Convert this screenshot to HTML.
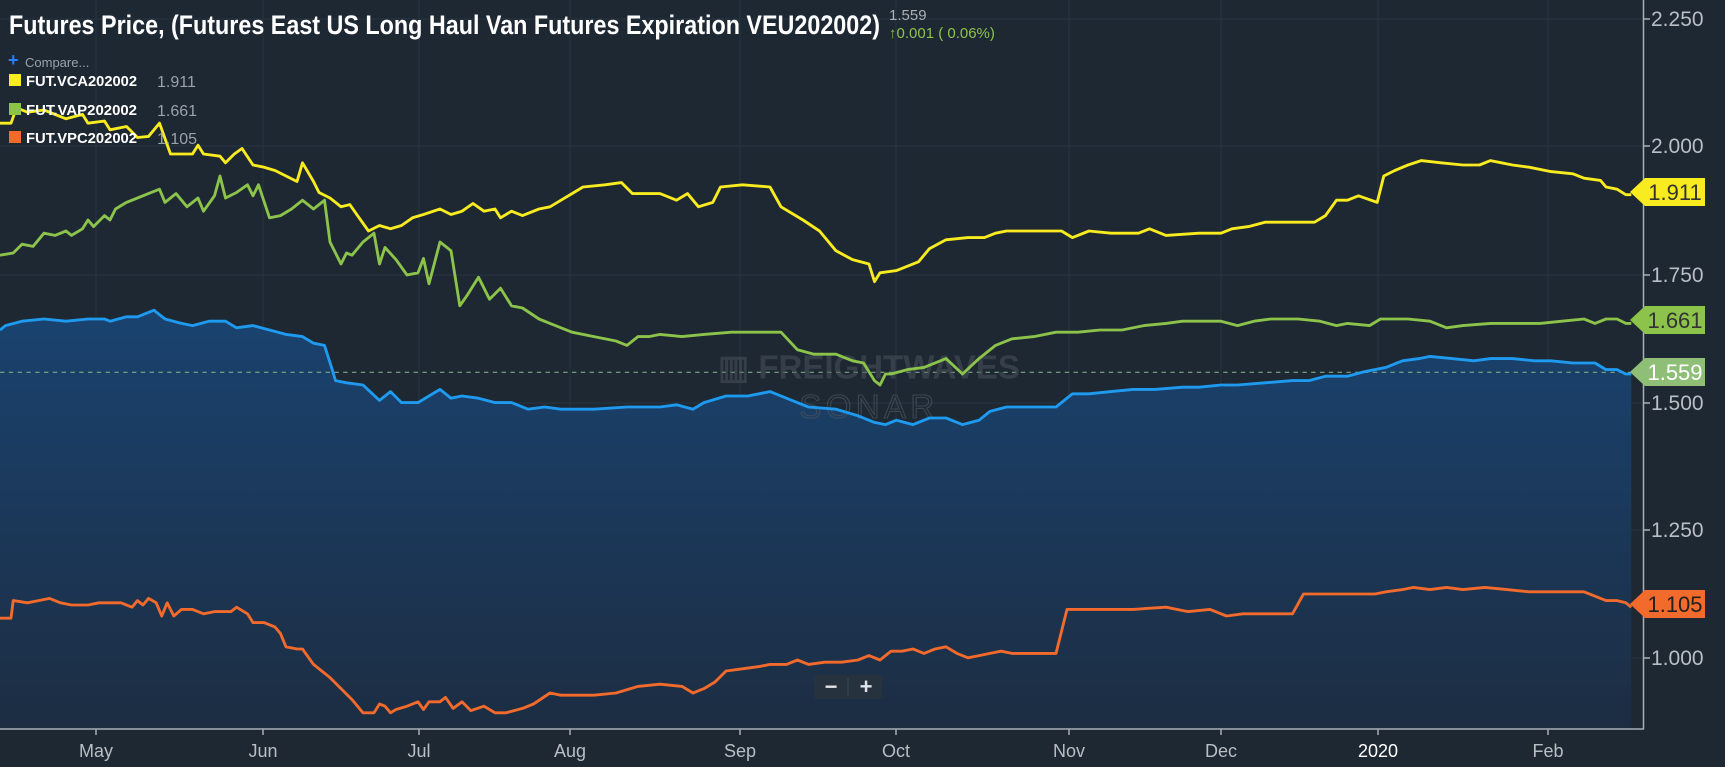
<!DOCTYPE html>
<html><head><meta charset="utf-8"><style>
html,body{margin:0;padding:0;background:#1e2833;}
svg{display:block;}
</style></head><body>
<svg width="1725" height="767" viewBox="0 0 1725 767" xmlns="http://www.w3.org/2000/svg" font-family="Liberation Sans, sans-serif">
<defs>
<linearGradient id="fg" x1="0" y1="0" x2="0" y2="1">
<stop offset="0" stop-color="#1a4370"/><stop offset="1" stop-color="#1c2d42"/>
</linearGradient>
<clipPath id="cp"><rect x="0" y="0" width="1643" height="729"/></clipPath>
</defs>
<rect width="1725" height="767" fill="#1e2833"/>
<g stroke="#26343f" stroke-width="1">
<line x1="0" y1="19" x2="1643" y2="19"/><line x1="0" y1="146" x2="1643" y2="146"/><line x1="0" y1="275" x2="1643" y2="275"/><line x1="0" y1="403" x2="1643" y2="403"/><line x1="0" y1="530" x2="1643" y2="530"/><line x1="0" y1="658" x2="1643" y2="658"/>
<line x1="96" y1="0" x2="96" y2="729"/><line x1="263" y1="0" x2="263" y2="729"/><line x1="419" y1="0" x2="419" y2="729"/><line x1="570" y1="0" x2="570" y2="729"/><line x1="740" y1="0" x2="740" y2="729"/><line x1="896" y1="0" x2="896" y2="729"/><line x1="1069" y1="0" x2="1069" y2="729"/><line x1="1221" y1="0" x2="1221" y2="729"/><line x1="1378" y1="0" x2="1378" y2="729"/><line x1="1548" y1="0" x2="1548" y2="729"/>
</g>
<g clip-path="url(#cp)">
<g transform="scale(1.1)" fill="none" stroke-width="2.6" stroke-linejoin="round">
<polygon fill="url(#fg)" stroke="none" points="0,300 5,296 20,292 40,290 60,292 80,290 95,290 100,292 115,288 125,288 140,282 150,290 165,294 175,296 190,292 205,292 215,298 230,296 245,300 260,304 275,306 285,312 295,314 302,336 305,346 315,348 330,350 345,364 355,356 365,366 380,366 390,360 400,354 410,362 420,360 435,362 450,366 465,366 480,372 495,370 510,372 540,372 570,370 600,370 615,368 630,372 640,366 660,360 680,360 700,356 720,364 735,370 760,372 780,378 795,384 805,386 815,382 830,386 845,380 860,380 875,386 890,382 900,374 915,370 940,370 960,370 975,358 990,358 1010,356 1030,354 1050,354 1075,352 1090,352 1110,350 1125,350 1150,348 1175,346 1190,346 1205,342 1225,342 1240,338 1260,334 1275,328 1290,326 1300,324 1320,326 1340,328 1355,326 1375,326 1395,328 1410,328 1430,330 1450,330 1460,336 1470,336 1478,340 1483,340 1483,663 0,663"/>
<line x1="0" y1="338.5" x2="1483" y2="338.5" stroke="#7fa884" stroke-width="1" stroke-dasharray="4,4"/>
<text x="790" y="344" font-size="30" font-weight="bold" fill="#4a535c" text-anchor="middle" stroke="none" opacity="0.55">▥ FREIGHTWAVES</text>
<text x="790" y="380" font-size="30" fill="none" stroke="#4a535c" stroke-width="1" text-anchor="middle" letter-spacing="4" opacity="0.7">SONAR</text>
<polyline stroke="#1e9bf0" points="0,300 5,296 20,292 40,290 60,292 80,290 95,290 100,292 115,288 125,288 140,282 150,290 165,294 175,296 190,292 205,292 215,298 230,296 245,300 260,304 275,306 285,312 295,314 302,336 305,346 315,348 330,350 345,364 355,356 365,366 380,366 390,360 400,354 410,362 420,360 435,362 450,366 465,366 480,372 495,370 510,372 540,372 570,370 600,370 615,368 630,372 640,366 660,360 680,360 700,356 720,364 735,370 760,372 780,378 795,384 805,386 815,382 830,386 845,380 860,380 875,386 890,382 900,374 915,370 940,370 960,370 975,358 990,358 1010,356 1030,354 1050,354 1075,352 1090,352 1110,350 1125,350 1150,348 1175,346 1190,346 1205,342 1225,342 1240,338 1260,334 1275,328 1290,326 1300,324 1320,326 1340,328 1355,326 1375,326 1395,328 1410,328 1430,330 1450,330 1460,336 1470,336 1478,340 1483,340"/>
<polyline stroke="#f8eb1f" points="0,112 10,112 15,98 25,102 40,100 60,108 75,104 80,112 95,110 100,118 115,115 125,125 135,124 145,112 155,140 175,140 180,132 185,140 200,142 205,148 213,140 220,135 230,150 240,152 250,155 260,160 270,165 275,148 285,165 290,175 300,180 310,188 318,186 325,196 335,210 345,205 355,208 365,205 375,198 385,195 400,190 410,195 420,192 430,185 440,192 450,190 455,198 465,192 475,196 490,190 500,188 510,182 520,176 530,170 550,168 565,166 575,176 600,176 615,182 625,176 635,188 648,184 655,170 675,168 700,170 710,188 730,200 745,210 760,228 775,236 790,240 795,256 800,248 815,246 825,242 835,238 845,226 860,218 880,216 895,216 905,212 915,210 935,210 965,210 975,216 990,210 1010,212 1035,212 1045,208 1060,214 1090,212 1110,212 1120,208 1135,206 1150,202 1170,202 1195,202 1205,196 1215,182 1225,182 1235,178 1252,184 1258,160 1268,155 1280,150 1292,146 1310,148 1330,150 1345,150 1355,146 1365,148 1375,150 1390,152 1410,156 1430,158 1440,162 1455,164 1460,170 1470,172 1478,177 1483,177"/>
<polyline stroke="#8cc34a" points="0,232 12,230 20,222 30,224 40,212 50,214 60,210 65,214 75,208 80,200 85,206 95,196 100,200 105,190 115,184 125,180 135,176 145,172 150,184 160,176 170,188 180,180 185,192 195,178 200,160 205,180 215,175 225,168 230,178 235,168 245,198 255,196 265,190 275,182 285,190 295,182 300,220 310,240 315,230 320,232 330,220 340,212 345,240 350,225 360,236 370,250 380,248 385,235 390,258 400,220 410,228 418,278 425,268 435,252 445,272 455,262 465,278 475,280 490,290 500,294 520,302 540,306 560,310 570,314 580,306 590,306 600,304 620,306 640,304 665,302 680,302 710,302 725,318 740,322 760,322 775,328 785,330 795,346 800,350 805,340 810,340 825,336 840,334 860,326 875,340 890,326 905,314 920,308 940,306 960,302 980,302 1000,300 1020,300 1040,296 1060,294 1075,292 1090,292 1110,292 1125,296 1140,292 1155,290 1180,290 1200,292 1215,296 1225,294 1245,296 1255,290 1280,290 1300,292 1315,298 1330,296 1355,294 1400,294 1420,292 1440,290 1450,294 1460,290 1470,290 1478,294 1483,294"/>
<polyline stroke="#f26a2c" points="0,562 10,562 12,546 25,548 35,546 45,544 55,548 65,550 80,550 90,548 100,548 110,548 120,552 125,546 130,550 135,544 142,548 147,560 152,548 158,560 165,554 175,554 185,558 195,556 210,556 215,552 225,558 230,566 240,566 250,570 255,576 260,588 270,590 275,590 285,604 300,616 310,626 320,636 330,648 340,648 345,640 350,642 355,648 360,645 370,642 380,638 385,645 390,638 400,638 405,634 412,644 420,638 428,646 440,642 450,648 460,648 475,644 485,640 500,630 510,632 520,632 540,632 560,630 580,624 600,622 620,624 630,630 640,626 650,620 660,610 675,608 690,606 700,604 715,604 725,600 735,604 750,602 765,602 780,600 790,596 800,600 810,592 820,592 830,590 840,594 850,590 860,588 870,594 880,598 890,596 900,594 910,592 920,594 940,594 960,594 970,554 975,554 1000,554 1030,554 1060,552 1080,556 1100,554 1115,560 1130,558 1150,558 1175,558 1185,540 1220,540 1250,540 1260,538 1275,536 1285,534 1300,536 1315,534 1330,536 1350,534 1370,536 1390,538 1410,538 1440,538 1460,546 1470,546 1478,548 1483,552"/>
</g>
</g>
<rect x="814" y="675" width="68" height="24" rx="3" fill="#26323d"/>
<text x="831" y="694" font-size="22" fill="#e0e4e8" text-anchor="middle" font-weight="bold">−</text>
<text x="866" y="694" font-size="22" fill="#e0e4e8" text-anchor="middle" font-weight="bold">+</text>
<line x1="848" y1="678" x2="848" y2="696" stroke="#3a4652"/>
<line x1="0" y1="729" x2="1644" y2="729" stroke="#a9b0b6" stroke-width="1.5"/>
<line x1="1643.5" y1="0" x2="1643.5" y2="729" stroke="#a9b0b6" stroke-width="1.5"/>
<g stroke="#a9b0b6" stroke-width="1.5">
<line x1="1643" y1="19" x2="1650" y2="19"/><line x1="1643" y1="146" x2="1650" y2="146"/><line x1="1643" y1="275" x2="1650" y2="275"/><line x1="1643" y1="403" x2="1650" y2="403"/><line x1="1643" y1="530" x2="1650" y2="530"/><line x1="1643" y1="658" x2="1650" y2="658"/>
<line x1="96" y1="729" x2="96" y2="735"/><line x1="263" y1="729" x2="263" y2="735"/><line x1="419" y1="729" x2="419" y2="735"/><line x1="570" y1="729" x2="570" y2="735"/><line x1="740" y1="729" x2="740" y2="735"/><line x1="896" y1="729" x2="896" y2="735"/><line x1="1069" y1="729" x2="1069" y2="735"/><line x1="1221" y1="729" x2="1221" y2="735"/><line x1="1378" y1="729" x2="1378" y2="735"/><line x1="1548" y1="729" x2="1548" y2="735"/>
</g>
<g font-size="21" fill="#b8bec4">
<text x="1651" y="26">2.250</text><text x="1651" y="153">2.000</text><text x="1651" y="282">1.750</text><text x="1651" y="410">1.500</text><text x="1651" y="537">1.250</text><text x="1651" y="665">1.000</text>
</g>
<g font-size="18" fill="#b8bec4" text-anchor="middle">
<text x="96" y="757">May</text><text x="263" y="757">Jun</text><text x="419" y="757">Jul</text><text x="570" y="757">Aug</text><text x="740" y="757">Sep</text><text x="896" y="757">Oct</text><text x="1069" y="757">Nov</text><text x="1221" y="757">Dec</text><text x="1378" y="757" fill="#ffffff">2020</text><text x="1548" y="757">Feb</text>
</g>
<g font-size="22">
<path d="M1630,192 L1645,178 L1705,178 L1705,206 L1645,206 Z" fill="#f8eb1f"/><text x="1675" y="200" text-anchor="middle" fill="#333">1.911</text>
<path d="M1630,320 L1645,306 L1705,306 L1705,334 L1645,334 Z" fill="#8cc34a"/><text x="1675" y="328" text-anchor="middle" fill="#333">1.661</text>
<path d="M1630,372 L1645,358 L1705,358 L1705,386 L1645,386 Z" fill="#8fbf77"/><text x="1675" y="380" text-anchor="middle" fill="#fff">1.559</text>
<path d="M1630,604 L1645,590 L1705,590 L1705,618 L1645,618 Z" fill="#f26a2c"/><text x="1675" y="612" text-anchor="middle" fill="#222">1.105</text>
</g>
<text x="9" y="34" font-size="27" font-weight="bold" fill="#ffffff" textLength="871" lengthAdjust="spacingAndGlyphs">Futures Price, (Futures East US Long Haul Van Futures Expiration VEU202002)</text>
<text x="889" y="20" font-size="15" fill="#a9b0b6">1.559</text>
<text x="889" y="38" font-size="15" fill="#8cc34a">↑0.001 ( 0.06%)</text>
<text x="8" y="66" font-size="18" fill="#2a7fff" font-weight="bold">+</text>
<text x="25" y="67" font-size="13" fill="#9aa2aa">Compare...</text>
<rect x="9" y="74" width="12" height="12" fill="#f8eb1f"/>
<text x="26" y="86" font-size="15" font-weight="bold" fill="#fff" textLength="111" lengthAdjust="spacingAndGlyphs">FUT.VCA202002</text>
<text x="157" y="87" font-size="16" fill="#9aa2aa">1.911</text>
<rect x="9" y="103" width="12" height="12" fill="#8cc34a"/>
<text x="26" y="115" font-size="15" font-weight="bold" fill="#fff" textLength="111" lengthAdjust="spacingAndGlyphs">FUT.VAP202002</text>
<text x="157" y="116" font-size="16" fill="#9aa2aa">1.661</text>
<rect x="9" y="131" width="12" height="12" fill="#f26a2c"/>
<text x="26" y="143" font-size="15" font-weight="bold" fill="#fff" textLength="111" lengthAdjust="spacingAndGlyphs">FUT.VPC202002</text>
<text x="157" y="144" font-size="16" fill="#9aa2aa">1.105</text>
</svg>
</body></html>
